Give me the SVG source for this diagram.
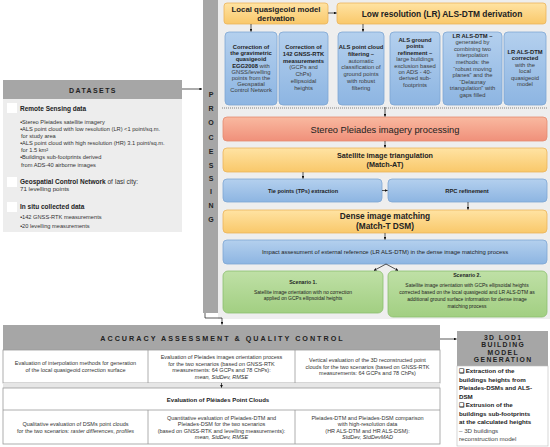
<svg xmlns="http://www.w3.org/2000/svg" width="550" height="447" viewBox="0 0 550 447">
<defs>
<linearGradient id="gO" x1="0" y1="0" x2="0" y2="1"><stop offset="0" stop-color="#FFE3A3"/><stop offset="1" stop-color="#F9C86A"/></linearGradient>
<linearGradient id="gB" x1="0" y1="0" x2="0" y2="1"><stop offset="0" stop-color="#B4D0EE"/><stop offset="1" stop-color="#8DB5E2"/></linearGradient>
<linearGradient id="gS" x1="0" y1="0" x2="0" y2="1"><stop offset="0" stop-color="#F9B9A0"/><stop offset="1" stop-color="#F0907A"/></linearGradient>
<linearGradient id="gG" x1="0" y1="0" x2="0" y2="1"><stop offset="0" stop-color="#BFE0A6"/><stop offset="1" stop-color="#A2CF82"/></linearGradient>
<marker id="ah" viewBox="0 0 6 6" refX="5.5" refY="3" markerWidth="4" markerHeight="4" orient="auto"><path d="M0,0 L6,3 L0,6 z" fill="#111"/></marker>
</defs>
<style>
text{font-family:"Liberation Sans",Arial,sans-serif;fill:#222}
.o{fill:url(#gO);stroke:#EBB45A;stroke-width:0.8}
.b{fill:url(#gB);stroke:#7EA6D3;stroke-width:0.8}
.s{fill:url(#gS);stroke:#E38C70;stroke-width:0.8}
.g{fill:url(#gG);stroke:#8CBF6E;stroke-width:0.8}
.hd{fill:#A6A6A6}
.cell{fill:#fff;stroke:#9A9A9A;stroke-width:0.8}
.t5{font-size:5.8px;text-anchor:middle}
.t5 .r{fill:#3a3a3a}
.bo{font-weight:bold}
.c{text-anchor:middle}
.cn{stroke:#111;stroke-width:0.7;fill:none}
.hl{font-weight:bold;letter-spacing:2px;fill:#222}
.ds{font-size:5.7px;fill:#333}
.ev{font-size:5.5px;text-anchor:middle;fill:#333}
.lod{font-size:6.2px;font-weight:bold;fill:#222}
</style>

<!-- processing background -->
<rect x="218" y="0" width="332" height="319" fill="#EEEEEE"/>
<g id="processing-bar">
<rect x="203" y="0" width="15" height="313" fill="#A6A6A6"/>
<g class="bo c" style="font-size:7px">
<text x="211" y="96.5">P</text><text x="211" y="110.5">R</text><text x="211" y="124.5">O</text><text x="211" y="139.5">C</text><text x="211" y="153.5">E</text><text x="211" y="167.5">S</text><text x="211" y="180.5">S</text><text x="211" y="193.5">I</text><text x="211" y="207.5">N</text><text x="211" y="221.5">G</text>
</g>
</g>

<g id="local-quasigeoid">
<rect class="o" x="224" y="3" width="104" height="21" rx="3"/>
<text class="bo c" x="276" y="12" style="font-size:7.8px">Local quasigeoid model</text>
<text class="bo c" x="276" y="21" style="font-size:7.8px">derivation</text>
</g>
<g id="lr-als-dtm">
<rect class="o" x="337" y="3" width="209" height="21" rx="3"/>
<text class="bo c" x="442" y="16.5" style="font-size:8.4px">Low resolution (LR) ALS-DTM derivation</text>
</g>

<g id="box-egg">
<rect class="b" x="225" y="32" width="52" height="73" rx="4"/>
<text class="t5" x="251" y="49"><tspan class="bo">Correction of</tspan><tspan x="251" dy="6.2" class="bo">the gravimetric</tspan><tspan x="251" dy="6.2" class="bo">quasigeoid</tspan><tspan x="251" dy="6.2"><tspan class="bo">EGG2008</tspan><tspan class="r"> with</tspan></tspan><tspan x="251" dy="6.2" class="r">GNSS/levelling</tspan><tspan x="251" dy="6.2" class="r">points from the</tspan><tspan x="251" dy="6.2" class="r">Geospatial</tspan><tspan x="251" dy="6.2" class="r">Control Network</tspan></text>
</g>
<g id="box-gnss">
<rect class="b" x="279" y="32" width="49" height="73" rx="4"/>
<text class="t5" x="303.5" y="49"><tspan class="bo">Correction of</tspan><tspan x="303.5" dy="6.8" class="bo">142 GNSS-RTK</tspan><tspan x="303.5" dy="6.8" class="bo">measurements</tspan><tspan x="303.5" dy="6.8" class="r">(GCPs and</tspan><tspan x="303.5" dy="6.8" class="r">ChPs)</tspan><tspan x="303.5" dy="6.8" class="r">ellipsoidal</tspan><tspan x="303.5" dy="6.8" class="r">heights</tspan></text>
</g>
<g id="box-filter">
<rect class="b" x="338" y="32" width="46" height="73" rx="4"/>
<text class="t5" x="361" y="49"><tspan class="bo">ALS point cloud</tspan><tspan x="361" dy="6.8" class="bo">filtering –</tspan><tspan x="361" dy="6.8" class="r">automatic</tspan><tspan x="361" dy="6.8" class="r">classification of</tspan><tspan x="361" dy="6.8" class="r">ground points</tspan><tspan x="361" dy="6.8" class="r">with robust</tspan><tspan x="361" dy="6.8" class="r">filtering</tspan></text>
</g>
<g id="box-refine">
<rect class="b" x="390" y="32" width="50" height="73" rx="4"/>
<text class="t5" x="415" y="42"><tspan class="bo">ALS ground</tspan><tspan x="415" dy="6.4" class="bo">points</tspan><tspan x="415" dy="6.4" class="bo">refinement –</tspan><tspan x="415" dy="6.4" class="r">large buildings</tspan><tspan x="415" dy="6.4" class="r">exclusion based</tspan><tspan x="415" dy="6.4" class="r">on ADS - 40-</tspan><tspan x="415" dy="6.4" class="r">derived sub-</tspan><tspan x="415" dy="6.4" class="r">footprints</tspan></text>
</g>
<g id="box-interp">
<rect class="b" x="443" y="32" width="59" height="73" rx="4"/>
<text class="t5" x="472.5" y="37.5"><tspan class="bo">LR ALS-DTM –</tspan><tspan x="472.5" dy="6.6" class="r">generated by</tspan><tspan x="472.5" dy="6.6" class="r">combining two</tspan><tspan x="472.5" dy="6.6" class="r">interpolation</tspan><tspan x="472.5" dy="6.6" class="r">methods: the</tspan><tspan x="472.5" dy="6.6" class="r">“robust moving</tspan><tspan x="472.5" dy="6.6" class="r">planes” and the</tspan><tspan x="472.5" dy="6.6" class="r">“Delaunay</tspan><tspan x="472.5" dy="6.6" class="r">triangulation” with</tspan><tspan x="472.5" dy="6.6" class="r">gaps filled</tspan></text>
</g>
<g id="box-corrected">
<rect class="b" x="504" y="32" width="42" height="73" rx="4"/>
<text class="t5" x="525" y="54"><tspan class="bo">LR ALS-DTM</tspan><tspan x="525" dy="6.4" class="bo">corrected</tspan><tspan x="525" dy="6.4" class="r">with the</tspan><tspan x="525" dy="6.4" class="r">local</tspan><tspan x="525" dy="6.4" class="r">quasigeoid</tspan><tspan x="525" dy="6.4" class="r">model</tspan></text>
</g>

<line x1="222" y1="108" x2="548" y2="108" stroke="#666" stroke-width="0.8" stroke-dasharray="1,1"/>

<g id="stereo">
<rect class="s" x="223" y="117" width="324" height="24" rx="4"/>
<text class="c" x="385" y="132.5" style="font-size:9.3px">Stereo Pleiades imagery processing</text>
</g>
<g id="triangulation">
<rect class="o" x="223" y="148" width="324" height="24" rx="4"/>
<text class="bo c" x="385" y="157.5" style="font-size:7.2px">Satellite image triangulation</text>
<text class="bo c" x="385" y="167" style="font-size:7.2px">(Match-AT)</text>
</g>
<g id="tie-points">
<rect class="b" x="223" y="179" width="159" height="23" rx="4"/>
<text class="bo c" x="303" y="192.5" style="font-size:5.6px">Tie points (TPs) extraction</text>
</g>
<g id="rpc">
<rect class="b" x="388" y="179" width="159" height="23" rx="4"/>
<text class="bo c" x="467" y="192.5" style="font-size:5.8px">RPC refinement</text>
</g>
<g id="dense">
<rect class="o" x="223" y="210" width="324" height="23" rx="4"/>
<text class="bo c" x="385" y="218.5" style="font-size:8.3px">Dense image matching</text>
<text class="bo c" x="385" y="228.5" style="font-size:8.3px">(Match-T DSM)</text>
</g>
<g id="impact">
<rect class="b" x="223" y="240" width="324" height="24" rx="4"/>
<text class="c" x="385" y="254" style="font-size:5.9px">Impact assesument of external reference (LR ALS-DTM) in the dense image matching process</text>
</g>
<g id="scenario1">
<rect class="g" x="223" y="271" width="160" height="42" rx="5"/>
<text class="bo c" x="303" y="284" style="font-size:5.2px">Scenario 1.</text>
<text class="c" x="303" y="293.5" style="font-size:5px">Satellite image orientation with no correction</text>
<text class="c" x="303" y="300" style="font-size:5px">applied on GCPs ellipsoidal heights</text>
</g>
<g id="scenario2">
<rect class="g" x="388" y="271" width="159" height="46" rx="5"/>
<text class="bo c" x="467" y="277" style="font-size:5.2px">Scenario 2.</text>
<text class="c" x="467" y="286.5" style="font-size:5px">Satellite image orientation with GCPs ellipsoidal heights</text>
<text class="c" x="467" y="293.5" style="font-size:5px">corrected based on the local quasigeoid and LR ALS-DTM as</text>
<text class="c" x="467" y="300.5" style="font-size:5px">additional ground surface information for dense image</text>
<text class="c" x="467" y="307.5" style="font-size:5px">matching process</text>
</g>

<g id="datasets">
<rect x="3" y="80" width="179" height="19" class="hd"/>
<rect x="3" y="99" width="179" height="133" fill="#EDEDED"/>
<text class="hl c" x="93" y="92.5" style="font-size:7px;letter-spacing:1.4px">DATASETS</text>
<rect x="7" y="103" width="10" height="10" fill="#fff"/>
<rect x="7" y="177" width="10" height="10" fill="#fff"/>
<rect x="7" y="202" width="10" height="10" fill="#fff"/>
<text class="bo" x="20" y="110.5" style="font-size:6.5px">Remote Sensing data</text>
<text class="ds" x="20" y="124">▪Stereo Pleiades satellite imagery</text>
<text class="ds" x="20" y="131">▪ALS point cloud with low resolution (LR)  &lt;1 point/sq.m.</text>
<text class="ds" x="21" y="138">for study area</text>
<text class="ds" x="20" y="145">▪ALS point cloud with high resolution (HR)  3.1 point/sq.m.</text>
<text class="ds" x="21" y="152">for 1.5 km²</text>
<text class="ds" x="20" y="159">▪Buildings sub-footprints derived</text>
<text class="ds" x="21" y="166.5"> from ADS-40 airborne images</text>
<text x="20" y="183.5" style="font-size:6.5px"><tspan class="bo">Geospatial Control Network</tspan><tspan fill="#333"> of Iasi city:</tspan></text>
<text x="20" y="191" style="font-size:6.2px;fill:#333">71 levelling points</text>
<text class="bo" x="20" y="208.5" style="font-size:6.5px">In situ collected data</text>
<text class="ds" x="20" y="219">▪142 GNSS-RTK measurements</text>
<text class="ds" x="20" y="228">▪20 levelling measurements</text>
</g>

<g id="accuracy">
<rect x="3" y="325" width="437" height="25" class="hd"/>
<text class="hl c" x="222.5" y="340.5" style="font-size:7.2px;letter-spacing:2px">ACCURACY ASSESSMENT &amp; QUALITY CONTROL</text>
<rect x="3" y="350" width="437" height="33" class="cell"/>
<line x1="148" y1="350" x2="148" y2="383" stroke="#9A9A9A" stroke-width="0.8"/>
<line x1="295" y1="350" x2="295" y2="383" stroke="#9A9A9A" stroke-width="0.8"/>
<rect x="3" y="383" width="437" height="5" fill="#E6E6E6"/>
<text class="ev" x="75.5" y="365">Evaluation of interpolation methods for generation</text>
<text class="ev" x="75.5" y="371.5">of the local quasigeoid correction surface</text>
<text class="ev" x="221.5" y="359">Evaluation of Pleiades images orientation process</text>
<text class="ev" x="221.5" y="365.5">for the two scenarios (based on GNSS-RTK</text>
<text class="ev" x="221.5" y="372">measurements: 64 GCPs and 78 ChPs):</text>
<text class="ev" x="221.5" y="378.5" font-style="italic">mean, StdDev, RMSE</text>
<text class="ev" x="367.5" y="362">Vertical evaluation of the 3D reconstructed point</text>
<text class="ev" x="367.5" y="368.5">clouds for the two scenarios (based on GNSS-RTK</text>
<text class="ev" x="367.5" y="375">measurements: 64 GCPs and 78 ChPs)</text>
</g>

<g id="pleiades-eval">
<rect x="3" y="388" width="437" height="56" class="cell"/>
<line x1="3" y1="410" x2="440" y2="410" stroke="#9A9A9A" stroke-width="0.8"/>
<line x1="148" y1="410" x2="148" y2="444" stroke="#9A9A9A" stroke-width="0.8"/>
<line x1="295" y1="410" x2="295" y2="444" stroke="#9A9A9A" stroke-width="0.8"/>
<text class="bo c" x="218" y="401.5" style="font-size:6px">Evaluation of Pléiades Point Clouds</text>
<text class="ev" x="75.5" y="426">Qualitative evaluation of DSMs point clouds</text>
<text class="ev" x="75.5" y="432.5">for the two scenarios: <tspan font-style="italic">raster differences</tspan>, <tspan font-style="italic">profiles</tspan></text>
<text class="ev" x="221.5" y="419.5">Quantitative evaluation of Pleiades-DTM and</text>
<text class="ev" x="221.5" y="426">Pleiades-DSM for the two scenarios</text>
<text class="ev" x="221.5" y="432.5">(based on GNSS-RTK and levelling measurements):</text>
<text class="ev" x="221.5" y="439" font-style="italic">mean, StdDev, RMSE</text>
<text class="ev" x="367.5" y="419.5">Pleiades-DTM and Pleiades-DSM comparison</text>
<text class="ev" x="367.5" y="426">with high-resolution data</text>
<text class="ev" x="367.5" y="432.5">(HR ALS-DTM and  HR ALS-DSM):</text>
<text class="ev" x="367.5" y="439" font-style="italic">StdDev, StdDevMAD</text>
</g>

<g id="lod1">
<rect x="457" y="331" width="91" height="35" class="hd"/>
<rect x="457" y="366" width="91" height="80" fill="#fff" stroke="#BBBBBB" stroke-width="0.6"/>
<g class="hl c" style="font-size:6.8px;letter-spacing:1.4px">
<text x="503.2" y="339.5">3D LOD1</text>
<text x="503.2" y="347">BUILDING</text>
<text x="503.2" y="354.5">MODEL</text>
<text x="503.2" y="362">GENERATION</text>
</g>
<text class="lod" x="459" y="373">❑ Extraction of the</text>
<text class="lod" x="459" y="381.5">buildings heights from</text>
<text class="lod" x="459" y="390">Pleiades-DSMs and ALS-</text>
<text class="lod" x="459" y="398.5">DSM</text>
<text class="lod" x="459" y="407">❑ Extrusion of the</text>
<text class="lod" x="459" y="415.5">buildings sub-footprints</text>
<text class="lod" x="459" y="424">at the calculated heights</text>
<text x="459" y="432.5" style="font-size:6.2px;fill:#444">– 3D buildings</text>
<text x="459" y="441" style="font-size:6.2px;fill:#444">reconstruction model</text>
</g>

<g id="connectors">
<line class="cn" x1="182" y1="89" x2="202" y2="89" marker-end="url(#ah)"/>
<line class="cn" x1="328" y1="13" x2="336.5" y2="13" marker-end="url(#ah)"/>
<line class="cn" x1="251" y1="24" x2="251" y2="31.5" marker-end="url(#ah)"/>
<line class="cn" x1="363" y1="24" x2="363" y2="31.5" marker-end="url(#ah)"/>
<line class="cn" x1="385" y1="107" x2="385" y2="116.5" marker-end="url(#ah)"/>
<line class="cn" x1="385" y1="141" x2="385" y2="147.5" marker-end="url(#ah)"/>
<line class="cn" x1="303" y1="172" x2="303" y2="178.5" marker-end="url(#ah)"/>
<line class="cn" x1="382" y1="190.5" x2="387.5" y2="190.5" marker-end="url(#ah)"/>
<line class="cn" x1="468" y1="202" x2="468" y2="209.5" marker-end="url(#ah)"/>
<line class="cn" x1="385" y1="233" x2="385" y2="239.5" marker-end="url(#ah)"/>
<line class="cn" x1="386" y1="264" x2="374" y2="270.5" marker-end="url(#ah)"/>
<line class="cn" x1="386" y1="264" x2="398" y2="270.5" marker-end="url(#ah)"/>
<polyline class="cn" points="205,313 205,318 222,318 222,324.5" marker-end="url(#ah)"/>
<line class="cn" x1="221.5" y1="383" x2="221.5" y2="387.5" marker-end="url(#ah)"/>
<line class="cn" x1="440" y1="339" x2="456.5" y2="339" marker-end="url(#ah)"/>
</g>
</svg>
